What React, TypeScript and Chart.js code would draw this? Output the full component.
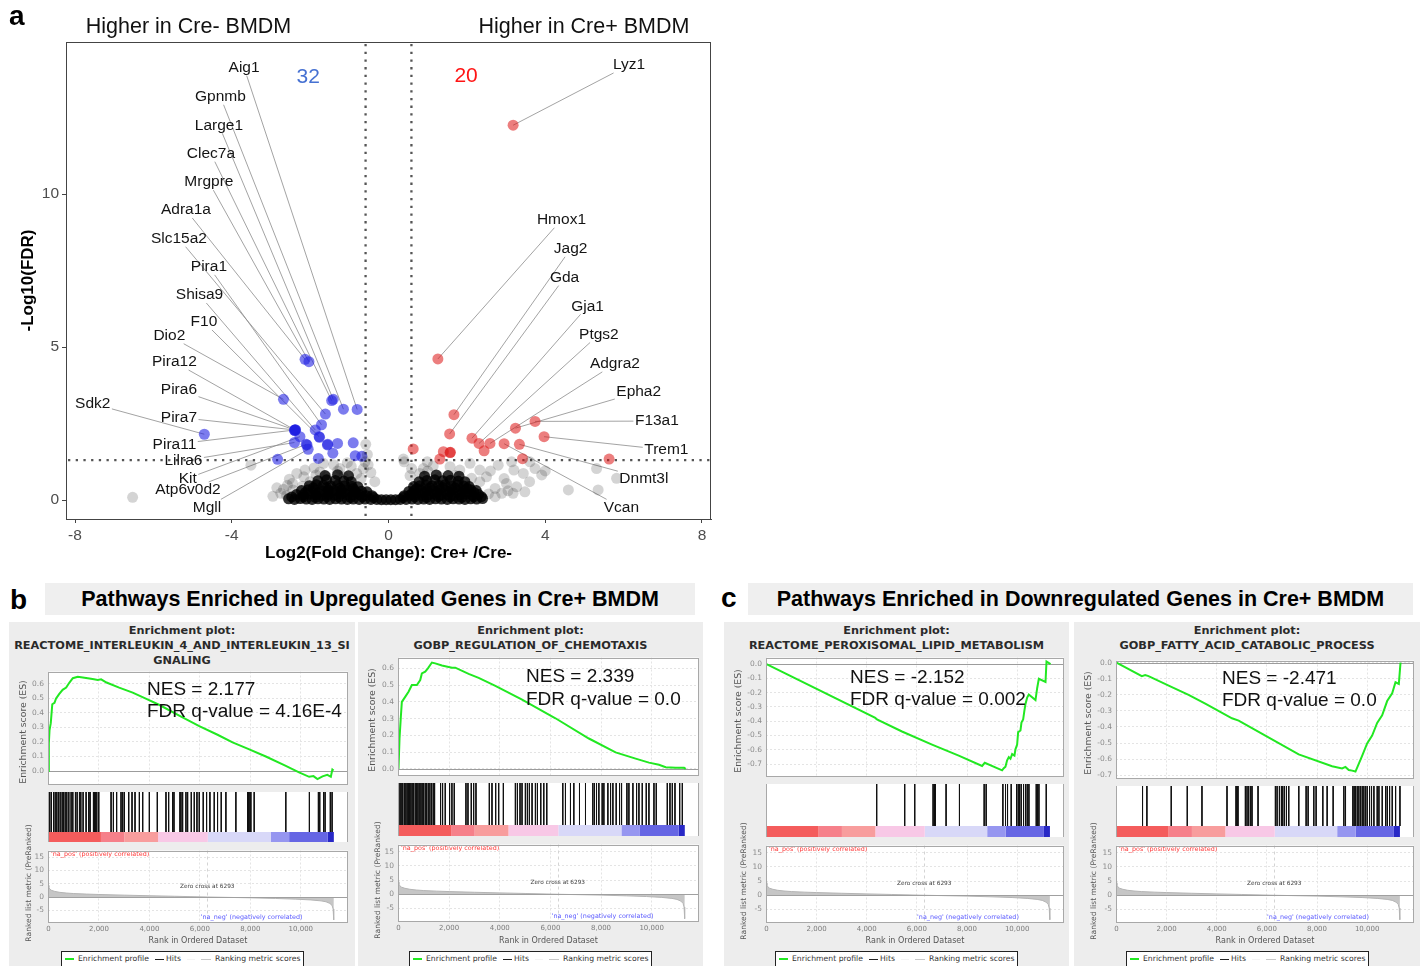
import React, { useEffect, useRef } from 'react';
import { Chart, registerables } from 'chart.js';

Chart.register(...registerables);

const FONT_SANS = '"Liberation Sans", Arial, Helvetica, sans-serif';
const FONT_GSEA = '"DejaVu Sans", Verdana, sans-serif';

// ================= Panel a: volcano plot =================
const VOLCANO_X_TICKS = [-8, -4, 0, 4, 8];
const VOLCANO_Y_TICKS = [0, 5, 10];
const LOG2FC_CUTOFF = 0.585;
const NEG_LOG10_FDR_CUTOFF = 1.301;
const DOWN_COUNT = 32;
const UP_COUNT = 20;

// significant genes, higher in Cre- : [log2FC, -log10 FDR]
const DOWN_GENES: [number, number][] = [
  [-2.13, 4.6], [-2.03, 4.52], [-2.68, 3.29], [-1.45, 3.25], [-1.41, 3.29], [-1.15, 2.97], [-0.8, 2.96], [-1.61, 2.81],
  [-1.71, 2.46], [-1.87, 2.29], [-2.39, 2.29], [-2.38, 2.3], [-2.4, 2.28], [-2.39, 2.27], [-2.37, 2.29], [-2.26, 2.07],
  [-1.77, 2.07], [-1.76, 2.05], [-2.4, 1.88], [-2.1, 1.82], [-2.05, 1.66], [-1.55, 1.82], [-1.3, 1.85], [-0.9, 1.87],
  [-1.42, 1.53], [-1.79, 1.36], [-0.85, 1.45], [-0.68, 1.43], [-2.83, 1.33], [-4.7, 2.15], [-1.56, 1.8], [-2.08, 1.8],
];
// significant genes, higher in Cre+
const UP_GENES: [number, number][] = [
  [3.18, 12.25], [1.26, 4.61], [1.67, 2.79], [1.56, 2.16], [2.13, 2.02], [2.31, 1.85], [2.44, 1.61], [2.59, 1.85],
  [3.24, 2.35], [3.74, 2.57], [3.97, 2.07], [2.95, 1.84], [3.34, 1.82], [3.42, 1.35], [5.63, 1.34], [0.63, 1.67],
  [1.4, 1.58], [1.57, 1.55], [1.58, 1.56], [1.31, 1.34],
];
// not significant, scattered
const NS_GENES: [number, number][] = [
  [-6.53, 0.09], [-3.51, 1.14], [-2.95, 0.12], [-2.85, 0.4], [-2.68, 0.35], [-2.53, 0.68], [-2.44, 0.33], [-2.3, 0.05],
  [-2.13, 0.98], [-2.16, 0.76], [-2.0, 0.6], [-1.75, 0.92], [-1.58, 0.76], [-1.24, 1.03], [-1.15, 0.76], [-0.81, 0.87],
  [-0.64, 1.03], [-2.34, 0.87], [-1.66, 1.2], [-0.58, 1.82], [-0.54, 1.49], [-0.6, 1.25], [-0.95, 1.1], [-1.4, 1.15],
  [-2.6, 0.15], [-2.75, 0.22], [-2.2, 0.45], [-1.9, 1.05], [-0.45, 0.9], [-0.35, 0.6], [-1.05, 1.22], [-0.7, 0.7],
  [-2.45, 0.55], [-1.3, 0.95], [-0.52, 1.15], [-2.58, 0.48], [-1.85, 0.82],
  [0.38, 1.34], [0.59, 1.03], [0.89, 1.03], [1.14, 1.11], [0.8, 0.87], [1.57, 1.09], [1.82, 0.98], [2.08, 1.2],
  [2.33, 0.98], [2.8, 1.14], [3.14, 1.25], [3.2, 0.98], [3.44, 0.87], [3.61, 1.25], [3.74, 1.03], [3.91, 0.82],
  [3.01, 0.54], [3.27, 0.43], [3.48, 0.27], [3.18, 0.22], [2.72, 0.38], [2.72, 0.11], [2.89, 0.22], [4.59, 0.33],
  [5.31, 1.03], [5.35, 0.33], [5.82, 0.71], [2.5, 0.76], [2.33, 0.6], [2.12, 0.71], [0.4, 1.25], [0.99, 1.25],
  [1.3, 0.75], [1.7, 0.8], [2.95, 0.7], [3.6, 0.6], [4.0, 0.95], [2.6, 0.95], [1.0, 0.95], [0.55, 0.8],
  [3.05, 0.3], [2.55, 0.2],
];
// not significant, dense core near zero
const NS_CORE_GENES: [number, number][] = [
  [-2.55, 0.04], [-2.4, 0.02], [-2.25, 0.05], [-2.1, 0.03], [-1.95, 0.02], [-1.8, 0.04], [-1.65, 0.03], [-1.5, 0.02],
  [-1.35, 0.04], [-1.2, 0.03], [-1.05, 0.02], [-0.9, 0.03], [-0.75, 0.02], [-0.6, 0.03], [-0.45, 0.02], [-0.3, 0.02],
  [-0.18, 0.01], [-0.06, 0.01], [0.06, 0.01], [0.18, 0.01], [0.3, 0.02], [0.45, 0.02], [0.6, 0.03], [0.75, 0.02],
  [0.9, 0.03], [1.05, 0.02], [1.2, 0.04], [1.35, 0.03], [1.5, 0.02], [1.65, 0.04], [1.8, 0.03], [1.95, 0.02],
  [2.1, 0.04], [2.25, 0.03], [2.4, 0.05],
  [-2.35, 0.18], [-2.18, 0.16], [-2.02, 0.19], [-1.86, 0.17], [-1.7, 0.15], [-1.54, 0.18], [-1.38, 0.16], [-1.22, 0.19],
  [-1.06, 0.17], [-0.9, 0.16], [-0.74, 0.18], [-0.58, 0.15], [-0.42, 0.14], [0.4, 0.14], [0.55, 0.16], [0.7, 0.18],
  [0.86, 0.15], [1.02, 0.17], [1.18, 0.19], [1.34, 0.16], [1.5, 0.18], [1.66, 0.15], [1.82, 0.17], [1.98, 0.19],
  [2.14, 0.16], [2.3, 0.18],
  [-2.22, 0.31], [-2.05, 0.34], [-1.88, 0.32], [-1.71, 0.3], [-1.54, 0.33], [-1.37, 0.31], [-1.2, 0.34], [-1.03, 0.32],
  [-0.86, 0.3], [-0.69, 0.29], [-0.55, 0.27], [0.52, 0.28], [0.66, 0.31], [0.82, 0.33], [0.98, 0.3], [1.14, 0.32],
  [1.3, 0.34], [1.46, 0.31], [1.62, 0.33], [1.78, 0.3], [1.94, 0.32], [2.1, 0.34], [2.24, 0.31],
  [-2.02, 0.47], [-1.84, 0.5], [-1.66, 0.48], [-1.48, 0.46], [-1.3, 0.49], [-1.12, 0.47], [-0.94, 0.45], [-0.78, 0.43],
  [0.64, 0.44], [0.8, 0.47], [0.96, 0.49], [1.12, 0.46], [1.28, 0.48], [1.44, 0.5], [1.6, 0.47], [1.76, 0.49],
  [1.92, 0.46], [2.06, 0.44],
  [-1.8, 0.63], [-1.58, 0.66], [-1.36, 0.64], [-1.14, 0.62], [-0.95, 0.6], [0.78, 0.6], [0.98, 0.64], [1.18, 0.66],
  [1.38, 0.63], [1.58, 0.65], [1.78, 0.62], [1.95, 0.6],
  [-1.62, 0.8], [-1.3, 0.83], [-1.02, 0.79], [0.92, 0.78], [1.22, 0.82], [1.52, 0.8], [1.8, 0.78],
  [-2.47, 0.1], [-2.17, 0.1], [-1.87, 0.09], [-1.57, 0.11], [-1.27, 0.1], [-0.97, 0.09], [-0.67, 0.1], [-0.38, 0.08],
  [0.37, 0.08], [0.67, 0.1], [0.97, 0.09], [1.27, 0.11], [1.57, 0.1], [1.87, 0.09], [2.17, 0.1], [2.37, 0.11],
  [-2.12, 0.25], [-1.8, 0.24], [-1.48, 0.26], [-1.14, 0.24], [-0.82, 0.23], [0.6, 0.22], [0.92, 0.25], [1.24, 0.24],
  [1.56, 0.26], [1.88, 0.24], [2.18, 0.25],
  [-1.92, 0.4], [-1.58, 0.41], [-1.24, 0.39], [-0.9, 0.38], [0.72, 0.38], [1.05, 0.4], [1.38, 0.41], [1.7, 0.39],
  [2.0, 0.38],
];
// labelled genes: [name, log2FC, -log10 FDR]
const LABELED_GENES: [string, number, number][] = [
  ['Aig1', -0.8, 2.96], ['Gpnmb', -1.15, 2.97], ['Large1', -1.41, 3.29], ['Clec7a', -1.45, 3.25], ['Mrgpre', -2.03, 4.52],
  ['Adra1a', -2.13, 4.6], ['Slc15a2', -1.61, 2.81], ['Pira1', -1.71, 2.46], ['Shisa9', -1.87, 2.29], ['F10', -1.77, 2.07],
  ['Dio2', -2.68, 3.29], ['Pira12', -2.39, 2.29], ['Pira6', -2.39, 2.29], ['Sdk2', -4.7, 2.15], ['Pira7', -2.39, 2.29],
  ['Pira11', -2.39, 2.29], ['Lilra6', -2.4, 1.88], ['Kit', -2.26, 2.07], ['Atp6v0d2', -2.1, 1.82], ['Mgll', -2.05, 1.66],
  ['Lyz1', 3.18, 12.25], ['Hmox1', 1.26, 4.61], ['Jag2', 1.67, 2.79], ['Gda', 1.56, 2.16], ['Gja1', 2.13, 2.02],
  ['Ptgs2', 2.31, 1.85], ['Adgra2', 2.59, 1.85], ['Epha2', 3.24, 2.35], ['F13a1', 3.74, 2.57], ['Trem1', 3.97, 2.07],
  ['Dnmt3l', 3.34, 1.82], ['Vcan', 2.95, 1.84],
];
// repelled label centres (layout, in axis units), same order as LABELED_GENES
const LABEL_PLACEMENT: [number, number][] = [
  [-3.686, 14.13], [-4.289, 13.18], [-4.327, 12.25], [-4.532, 11.32], [-4.583, 10.39],
  [-5.17, 9.48], [-5.348, 8.54], [-4.583, 7.62], [-4.823, 6.7], [-4.71, 5.82],
  [-5.593, 5.37], [-5.463, 4.51], [-5.348, 3.6], [-7.548, 3.15], [-5.348, 2.7],
  [-5.463, 1.82], [-5.233, 1.28], [-5.124, 0.71], [-5.118, 0.33], [-4.633, -0.24],
  [6.137, 14.22], [4.414, 9.16], [4.649, 8.21], [4.493, 7.27], [5.08, 6.33],
  [5.369, 5.41], [5.777, 4.45], [6.385, 3.53], [6.849, 2.58], [7.091, 1.64],
  [6.517, 0.71], [5.943, -0.24],
];
const COUNT_PLACEMENT: [number, number][] = [[-2.05, 13.82], [1.98, 13.86]];

// ================= Panels b, c: GSEA =================
const RANK_MIN = -20;
const RANK_MAX = 11870;
const RANK_TICKS = [0, 2000, 4000, 6000, 8000, 10000];
const METRIC_TICKS = [-5, 0, 5, 10, 15];
const METRIC_MIN = -9.4;
const METRIC_MAX = 17.5;
const ZERO_CROSS_RANK = 6293;
const ES_TICKS_POS = [0, 0.1, 0.2, 0.3, 0.4, 0.5, 0.6];
const ES_TICKS_NEG = [0, -0.1, -0.2, -0.3, -0.4, -0.5, -0.6, -0.7];

const RANKED_METRIC: [number, number][] = [
  [0, 4.4], [15, 3.6], [50, 3.0], [120, 2.5], [250, 2.1], [450, 1.75], [700, 1.5], [1000, 1.3], [1500, 1.1],
  [2000, 0.95], [3000, 0.7], [4000, 0.48], [5000, 0.28], [6293, 0], [7000, -0.12], [8000, -0.3], [9000, -0.55],
  [9800, -0.8], [10400, -1.1], [10800, -1.45], [11000, -1.8], [11150, -2.4], [11240, -3.2], [11280, -4.5],
  [11300, -6.5], [11309, -8.6],
];
const COLOR_BAR_EDGES = [0, 2078, 3010, 4342, 6314, 8805, 9537, 11069, 11309];
const COLOR_BAR_COLORS = ['#f45c5c', '#f6808a', '#f89d9d', '#f8c8e6', '#d8d8f8', '#9696f0', '#6666e4', '#2828c6'];

const GENE_SETS = [
  ['REACTOME_INTERLEUKIN_4_AND_INTERLEUKIN_13_SI', 'GNALING'],
  ['GOBP_REGULATION_OF_CHEMOTAXIS'],
  ['REACTOME_PEROXISOMAL_LIPID_METABOLISM'],
  ['GOBP_FATTY_ACID_CATABOLIC_PROCESS'],
];
const NES_VALUES = ['2.177', '2.339', '-2.152', '-2.471'];
const FDR_VALUES = ['4.16E-4', '0.0', '0.002', '0.0'];

const ES_IL4: [number, number][] = [
  [0, 0], [13, 0.19], [40, 0.28], [90, 0.33], [150, 0.46], [237, 0.47], [300, 0.5], [420, 0.53], [560, 0.56],
  [700, 0.575], [830, 0.61], [963, 0.64], [1160, 0.65], [1360, 0.645], [1620, 0.637], [1800, 0.632], [1950, 0.628],
  [2085, 0.632], [2300, 0.61], [2800, 0.575], [3337, 0.54], [3900, 0.495], [4400, 0.455], [5200, 0.38],
  [5975, 0.31], [6700, 0.25], [7294, 0.197], [7888, 0.154], [8613, 0.1], [9405, 0.036], [9930, -0.01],
  [10330, -0.04], [10500, -0.035], [10660, -0.056], [10860, -0.037], [11050, -0.026], [11190, -0.04],
  [11250, 0.01], [11300, 0.003],
];
const HITS_IL4 = [
  13, 53, 119, 198, 264, 330, 396, 462, 541, 594, 660, 725, 805, 897, 963, 1068, 1134, 1227, 1280, 1372, 1491, 1596,
  1649, 1781, 1821, 1860, 1913, 1992, 2480, 2572, 2700, 2875, 2941, 3007, 3179, 3311, 3429, 3601, 3733, 3997, 4313,
  4656, 4762, 4920, 4973, 5210, 5250, 5316, 5447, 5514, 5659, 5777, 5883, 5975, 6133, 6265, 6397, 6569, 6700, 6846,
  7030, 7426, 7888, 7927, 7980, 8020, 8152, 9405, 10340, 10697, 10750, 10900, 10961, 11170, 11240,
];
const ES_CHEMO: [number, number][] = [
  [0, 0], [40, 0.18], [92, 0.31], [132, 0.4], [264, 0.43], [396, 0.46], [528, 0.5], [726, 0.5], [858, 0.53],
  [923, 0.57], [1055, 0.58], [1161, 0.6], [1319, 0.635], [1451, 0.63], [1715, 0.617], [2111, 0.604], [2243, 0.604],
  [2770, 0.567], [3166, 0.543], [3826, 0.496], [4881, 0.413], [6200, 0.302], [7520, 0.181], [8575, 0.098],
  [9367, 0.061], [9894, 0.037], [10290, 0.024], [10554, 0.009], [10950, 0.007], [11280, 0.006], [11346, 0],
];
const HITS_CHEMO = [
  13, 66, 132, 171, 237, 290, 343, 396, 435, 488, 541, 594, 660, 712, 765, 818, 884, 936, 989, 1055, 1108, 1174,
  1240, 1306, 1372, 1425, 1662, 1741, 1847, 2018, 2110, 2203, 2664, 2744, 2875, 2968, 3060, 3588, 3693, 3838, 3957,
  4142, 4617, 4696, 4801, 4880, 5012, 5091, 5170, 5276, 5408, 5487, 5619, 5738, 5856, 6489, 6595, 6793, 6925, 7149,
  7386, 7677, 7743, 7822, 7914, 8046, 8112, 8270, 8376, 8468, 8600, 8732, 8811, 9022, 9101, 9259, 9404, 9497, 9629,
  9787, 9892, 10090, 10183, 10618, 10723, 10816, 10921, 11106, 11212,
];
const ES_PEROX: [number, number][] = [
  [0, 0], [4341, -0.377], [4407, -0.388], [5406, -0.472], [6605, -0.564], [7670, -0.641], [8602, -0.713],
  [8708, -0.691], [9401, -0.744], [9467, -0.729], [9534, -0.718], [9600, -0.674], [9667, -0.652], [9734, -0.663],
  [9800, -0.63], [9893, -0.641], [9933, -0.597], [10000, -0.564], [10040, -0.476], [10133, -0.465], [10173, -0.41],
  [10240, -0.388], [10293, -0.323], [10333, -0.279], [10400, -0.235], [10466, -0.213], [10732, -0.252],
  [10799, -0.169], [10866, -0.103], [11132, -0.125], [11172, 0.018], [11332, 0.0],
];
const HITS_PEROX = [
  4396, 5514, 5914, 6647, 6700, 6740, 7166, 7699, 8685, 8765, 9431, 9537, 9617, 9764, 9977, 10043, 10097, 10163,
  10256, 10336, 10403, 10470, 10763, 10816, 10869, 11162,
];
const ES_FATTY: [number, number][] = [
  [0, 0], [1012, -0.084], [1145, -0.078], [1278, -0.084], [2210, -0.152], [2876, -0.2], [3542, -0.255],
  [4607, -0.346], [4874, -0.36], [5939, -0.453], [7270, -0.57], [8602, -0.644], [9001, -0.657], [9134, -0.648],
  [9268, -0.667], [9401, -0.671], [9534, -0.677], [9640, -0.638], [9800, -0.579], [10000, -0.502], [10200, -0.453],
  [10400, -0.375], [10599, -0.327], [10799, -0.239], [10999, -0.191], [11132, -0.122], [11265, -0.132], [11332, 0.0],
];
const HITS_FATTY = [
  1039, 1212, 2184, 2824, 3410, 4409, 4769, 4809, 4848, 5142, 5208, 5275, 5355, 5408, 5648, 6340, 6407, 6500, 6580,
  6633, 6700, 6780, 6873, 7273, 7566, 7646, 7872, 7965, 8232, 8405, 8645, 9071, 9138, 9431, 9484, 9537, 9604, 9670,
  9737, 9804, 9870, 9937, 10003, 10097, 10176, 10270, 10403, 10470, 10603, 10736, 10803, 10896, 11002, 11136, 11309,
];

// ---------- layout of the four GSEA panels (pixels) ----------
const GEOS = [
  { left: 9, width: 346, frameL: 48, frameR: 348, esTop: 671, esBot: 792, hitsBot: 832, barBot: 842, rankBot: 922, esMin: -0.093, esMax: 0.686, nes: [147, 688, 710] },
  { left: 358, width: 345, frameL: 398, frameR: 699, esTop: 657, esBot: 783, hitsBot: 825, barBot: 836, rankBot: 921, esMin: -0.04, esMax: 0.665, nes: [526, 675, 698] },
  { left: 724, width: 345, frameL: 766, frameR: 1064, esTop: 657, esBot: 784, hitsBot: 826, barBot: 837, rankBot: 922, esMin: -0.787, esMax: 0.046, nes: [850, 676, 698] },
  { left: 1074, width: 346, frameL: 1116, frameR: 1414, esTop: 660, esBot: 786, hitsBot: 826, barBot: 837, rankBot: 922, esMin: -0.72, esMax: 0.013, nes: [1222, 677, 699] },
];
const PANEL_DATA = [
  { es: ES_IL4, hits: HITS_IL4, ticks: ES_TICKS_POS },
  { es: ES_CHEMO, hits: HITS_CHEMO, ticks: ES_TICKS_POS },
  { es: ES_PEROX, hits: HITS_PEROX, ticks: ES_TICKS_NEG },
  { es: ES_FATTY, hits: HITS_FATTY, ticks: ES_TICKS_NEG },
];

const GRID = '#e4e4e4';
const ES_GREEN = '#22e822';

// ================= helpers =================
const fixedTicks = (vals: number[]) => (s: any) => {
  s.ticks = vals.map((v) => ({ value: v }));
};
const fixW = (w: number) => (s: any) => {
  s.width = w;
};
const fixH = (h: number) => (s: any) => {
  s.height = h;
};
const pts = (a: [number, number][]) => a.map(([x, y]) => ({ x, y }));
const baseOpts = {
  responsive: false,
  maintainAspectRatio: false,
  animation: false,
  devicePixelRatio: 1,
  events: [],
  plugins: { legend: { display: false }, tooltip: { enabled: false } },
};

function ChartCanvas({ left, top, width, height, config }: any) {
  const ref = useRef<HTMLCanvasElement>(null);
  useEffect(() => {
    const chart = new Chart(ref.current as HTMLCanvasElement, config());
    return () => chart.destroy();
  }, []);
  return (
    <canvas
      ref={ref}
      width={width}
      height={height}
      style={{ position: 'absolute', left, top, width, height, display: 'block' }}
    />
  );
}

// ================= volcano =================
const volcanoDecor = {
  id: 'volcanoDecor',
  beforeDatasetsDraw(chart: any) {
    const { ctx, chartArea: a, scales } = chart;
    const xs = scales.x;
    const ys = scales.y;
    ctx.save();
    ctx.strokeStyle = '#555555';
    ctx.lineWidth = 2.3;
    ctx.setLineDash([2.3, 5.4]);
    [-LOG2FC_CUTOFF, LOG2FC_CUTOFF].forEach((v) => {
      const p = xs.getPixelForValue(v);
      ctx.beginPath();
      ctx.moveTo(p, a.top + 2);
      ctx.lineTo(p, a.bottom);
      ctx.stroke();
    });
    const h = ys.getPixelForValue(NEG_LOG10_FDR_CUTOFF);
    ctx.beginPath();
    ctx.moveTo(a.left + 2, h);
    ctx.lineTo(a.right, h);
    ctx.stroke();
    ctx.setLineDash([]);
    ctx.strokeStyle = '#8c8c8c';
    ctx.lineWidth = 0.8;
    ctx.font = `15.5px ${FONT_SANS}`;
    LABELED_GENES.forEach(([name, gx, gy], i) => {
      const [lx, ly] = LABEL_PLACEMENT[i];
      const cx = xs.getPixelForValue(lx);
      const cy = ys.getPixelForValue(ly);
      const px = xs.getPixelForValue(gx);
      const py = ys.getPixelForValue(gy);
      const hw = ctx.measureText(name).width / 2 + 1.5;
      const hh = 8;
      const dx = px - cx;
      const dy = py - cy;
      const t = Math.min(dx ? hw / Math.abs(dx) : Infinity, dy ? hh / Math.abs(dy) : Infinity);
      if (t >= 1) return;
      ctx.beginPath();
      ctx.moveTo(cx + dx * t, cy + dy * t);
      ctx.lineTo(px, py);
      ctx.stroke();
    });
    ctx.restore();
  },
  afterDatasetsDraw(chart: any) {
    const { ctx, chartArea: a, scales } = chart;
    const xs = scales.x;
    const ys = scales.y;
    ctx.save();
    ctx.font = `15.5px ${FONT_SANS}`;
    ctx.fillStyle = '#141414';
    ctx.textAlign = 'center';
    ctx.textBaseline = 'middle';
    LABELED_GENES.forEach(([name], i) => {
      const [lx, ly] = LABEL_PLACEMENT[i];
      ctx.fillText(name, xs.getPixelForValue(lx), ys.getPixelForValue(ly));
    });
    ctx.font = `21px ${FONT_SANS}`;
    ctx.fillStyle = '#4671d2';
    ctx.fillText(String(DOWN_COUNT), xs.getPixelForValue(COUNT_PLACEMENT[0][0]), ys.getPixelForValue(COUNT_PLACEMENT[0][1]));
    ctx.fillStyle = '#ff1414';
    ctx.fillText(String(UP_COUNT), xs.getPixelForValue(COUNT_PLACEMENT[1][0]), ys.getPixelForValue(COUNT_PLACEMENT[1][1]));
    ctx.strokeStyle = '#444444';
    ctx.lineWidth = 1;
    ctx.strokeRect(Math.round(a.left) + 0.5, Math.round(a.top) + 0.5, Math.round(a.right - a.left) - 1, Math.round(a.bottom - a.top));
    ctx.restore();
  },
};

function volcanoConfig() {
  const pointDs = (data: [number, number][], color: string) => ({
    data: pts(data),
    backgroundColor: color,
    pointBackgroundColor: color,
    pointBorderWidth: 0,
    borderWidth: 0,
    pointRadius: 5.5,
    showLine: false,
  });
  const tickFont = { family: FONT_SANS, size: 15.5 };
  return {
    type: 'scatter',
    data: {
      datasets: [
        pointDs(NS_CORE_GENES, 'rgba(0,0,0,0.8)'),
        pointDs(NS_GENES, 'rgba(0,0,0,0.17)'),
        pointDs(DOWN_GENES, 'rgba(30,30,225,0.58)'),
        pointDs(UP_GENES, 'rgba(220,20,20,0.55)'),
      ],
    },
    options: {
      ...baseOpts,
      layout: { padding: { left: 0, top: 42, right: 9, bottom: 0 } },
      scales: {
        x: {
          type: 'linear',
          min: -8.23,
          max: 8.23,
          afterBuildTicks: fixedTicks(VOLCANO_X_TICKS),
          afterFit: fixH(51),
          grid: { drawOnChartArea: false, drawTicks: true, tickLength: 4, color: '#444' },
          border: { display: true, color: '#444' },
          ticks: { color: '#4d4d4d', font: tickFont, padding: 3, autoSkip: false, maxRotation: 0 },
          title: {
            display: true,
            text: 'Log2(Fold Change): Cre+ /Cre-',
            color: '#000',
            font: { family: FONT_SANS, size: 17, weight: 'bold' },
            padding: { top: 0, bottom: 6.8 },
          },
        },
        y: {
          type: 'linear',
          min: -0.62,
          max: 14.97,
          afterBuildTicks: fixedTicks(VOLCANO_Y_TICKS),
          afterFit: fixW(66),
          grid: { drawOnChartArea: false, drawTicks: true, tickLength: 4, color: '#444' },
          border: { display: true, color: '#444' },
          ticks: { color: '#4d4d4d', font: tickFont, padding: 3 },
          title: {
            display: true,
            text: '-Log10(FDR)',
            color: '#000',
            font: { family: FONT_SANS, size: 17, weight: 'bold' },
            padding: { top: 17.8, bottom: 0 },
          },
        },
      },
    },
    plugins: [volcanoDecor],
  };
}

// ================= GSEA charts =================
const whiteArea = {
  id: 'whiteArea',
  beforeDraw(chart: any) {
    const { ctx, chartArea: a } = chart;
    ctx.save();
    ctx.fillStyle = '#ffffff';
    ctx.fillRect(a.left, a.top, a.right - a.left, a.bottom - a.top);
    ctx.restore();
  },
};
const frameAll = {
  id: 'frameAll',
  afterDraw(chart: any) {
    const { ctx, chartArea: a } = chart;
    ctx.save();
    ctx.strokeStyle = '#a8a8a8';
    ctx.lineWidth = 1;
    ctx.strokeRect(Math.round(a.left) + 0.5, Math.round(a.top) + 0.5, Math.round(a.right - a.left) - 1, Math.round(a.bottom - a.top) - 1);
    ctx.restore();
  },
};
const frameSides = {
  id: 'frameSides',
  afterDraw(chart: any) {
    const { ctx, chartArea: a } = chart;
    ctx.save();
    ctx.strokeStyle = '#a8a8a8';
    ctx.lineWidth = 1;
    ctx.beginPath();
    ctx.moveTo(Math.round(a.left) + 0.5, a.top);
    ctx.lineTo(Math.round(a.left) + 0.5, a.bottom);
    ctx.moveTo(Math.round(a.right) - 0.5, a.top);
    ctx.lineTo(Math.round(a.right) - 0.5, a.bottom);
    ctx.stroke();
    ctx.restore();
  },
};
const esZero = {
  id: 'esZero',
  beforeDatasetsDraw(chart: any) {
    const { ctx, chartArea: a, scales } = chart;
    const y = Math.round(scales.y.getPixelForValue(0)) + 0.5;
    ctx.save();
    ctx.strokeStyle = '#9c9c9c';
    ctx.lineWidth = 1;
    ctx.beginPath();
    ctx.moveTo(a.left, y);
    ctx.lineTo(a.right, y);
    ctx.stroke();
    ctx.restore();
  },
};
const rankedDecor = {
  id: 'rankedDecor',
  beforeDatasetsDraw(chart: any) {
    const { ctx, chartArea: a, scales } = chart;
    const x = Math.round(scales.x.getPixelForValue(ZERO_CROSS_RANK)) + 0.5;
    ctx.save();
    ctx.strokeStyle = '#d4d4d4';
    ctx.lineWidth = 1;
    ctx.setLineDash([3, 3]);
    ctx.beginPath();
    ctx.moveTo(x, a.top);
    ctx.lineTo(x, a.bottom);
    ctx.stroke();
    ctx.restore();
  },
  afterDatasetsDraw(chart: any) {
    const { ctx, chartArea: a, scales } = chart;
    const xs = scales.x;
    const ys = scales.y;
    ctx.save();
    const y0 = Math.round(ys.getPixelForValue(0)) + 0.5;
    ctx.strokeStyle = '#a0a0a0';
    ctx.lineWidth = 1;
    ctx.beginPath();
    ctx.moveTo(a.left, y0);
    ctx.lineTo(a.right, y0);
    ctx.stroke();
    ctx.textBaseline = 'middle';
    ctx.font = `6.4px ${FONT_GSEA}`;
    ctx.fillStyle = '#ff3a3a';
    ctx.textAlign = 'left';
    ctx.fillText("'na_pos' (positively correlated)", xs.getPixelForValue(100), ys.getPixelForValue(16.2));
    ctx.fillStyle = '#5a5aff';
    ctx.textAlign = 'right';
    ctx.fillText("'na_neg' (negatively correlated)", xs.getPixelForValue(10070), ys.getPixelForValue(-7.6));
    ctx.font = `5.8px ${FONT_GSEA}`;
    ctx.fillStyle = '#444';
    ctx.textAlign = 'center';
    ctx.fillText(`Zero cross at ${ZERO_CROSS_RANK}`, xs.getPixelForValue(ZERO_CROSS_RANK), ys.getPixelForValue(4));
    ctx.restore();
  },
};

const rankAxis = (extra: any) => ({
  type: 'linear',
  min: RANK_MIN,
  max: RANK_MAX,
  afterBuildTicks: fixedTicks(RANK_TICKS),
  grid: { color: GRID, drawTicks: false },
  border: { display: false, dash: [2, 2] },
  ...extra,
});

function esConfig(g: any, es: [number, number][], ticks: number[]) {
  return () => ({
    type: 'line',
    data: {
      datasets: [
        { data: pts(es), borderColor: ES_GREEN, borderWidth: 2, pointRadius: 0, tension: 0, fill: false },
      ],
    },
    options: {
      ...baseOpts,
      layout: { padding: { top: 8, right: 4, bottom: 1, left: 0 } },
      scales: {
        x: rankAxis({ afterFit: fixH(0), ticks: { display: false } }),
        y: {
          type: 'linear',
          min: g.esMin,
          max: g.esMax,
          afterBuildTicks: fixedTicks(ticks),
          afterFit: fixW(g.frameL - g.left),
          ticks: { color: '#8c8c8c', font: { family: FONT_GSEA, size: 7.5 }, padding: 4, callback: (v: any) => Number(v).toFixed(1) },
          grid: { color: GRID, drawTicks: false },
          border: { display: false, dash: [2, 2] },
        },
      },
    },
    plugins: [whiteArea, esZero, frameAll],
  });
}

function hitsConfig(g: any, hits: number[]) {
  return () => {
    const barPx = g.barBot - g.hitsBot;
    const barFrac = barPx / (g.barBot - g.esBot);
    const hitData: any[] = [];
    hits.forEach((r) => {
      hitData.push({ x: r, y: 1 }, { x: r, y: barFrac }, { x: r, y: null });
    });
    const blocks = COLOR_BAR_COLORS.map((c, i) => ({
      data: [
        { x: COLOR_BAR_EDGES[i], y: barFrac / 2 },
        { x: COLOR_BAR_EDGES[i + 1], y: barFrac / 2 },
      ],
      borderColor: c,
      borderWidth: barPx,
      borderCapStyle: 'butt',
      pointRadius: 0,
      fill: false,
    }));
    return {
      type: 'line',
      data: {
        datasets: [
          { data: hitData, borderColor: '#111', borderWidth: 1, pointRadius: 0, spanGaps: false, fill: false },
          ...blocks,
        ],
      },
      options: {
        ...baseOpts,
        layout: { padding: { top: 0, right: 4, bottom: 0, left: 0 } },
        scales: {
          x: rankAxis({ afterFit: fixH(0), ticks: { display: false }, grid: { display: false } }),
          y: {
            type: 'linear',
            min: 0,
            max: 1,
            afterFit: fixW(g.frameL - g.left),
            ticks: { display: false },
            grid: { display: false },
            border: { display: false },
          },
        },
      },
      plugins: [whiteArea, frameSides],
    };
  };
}

function rankedConfig(g: any) {
  return () => ({
    type: 'line',
    data: {
      datasets: [
        {
          data: pts(RANKED_METRIC),
          borderColor: '#b4b4b4',
          backgroundColor: '#c6c6c6',
          borderWidth: 1,
          pointRadius: 0,
          tension: 0,
          fill: 'origin',
        },
      ],
    },
    options: {
      ...baseOpts,
      layout: { padding: { top: 0, right: 4, bottom: 0, left: 0 } },
      scales: {
        x: rankAxis({
          afterFit: fixH(948 - g.rankBot),
          ticks: {
            color: '#7c7c7c',
            font: { family: FONT_GSEA, size: 7 },
            padding: 3,
            maxRotation: 0,
            autoSkip: false,
            callback: (v: any) => Number(v).toLocaleString('en-US'),
          },
          title: {
            display: true,
            text: 'Rank in Ordered Dataset',
            color: '#555',
            font: { family: FONT_GSEA, size: 8 },
            padding: { top: 0, bottom: 2 },
          },
        }),
        y: {
          type: 'linear',
          min: METRIC_MIN,
          max: METRIC_MAX,
          afterBuildTicks: fixedTicks(METRIC_TICKS),
          afterFit: fixW(g.frameL - g.left),
          ticks: { color: '#8c8c8c', font: { family: FONT_GSEA, size: 7.5 }, padding: 4 },
          grid: { color: GRID, drawTicks: false },
          border: { display: false, dash: [2, 2] },
        },
      },
    },
    plugins: [whiteArea, rankedDecor, frameAll],
  });
}

const abs = (left: number, top: number, extra: any = {}) => ({ position: 'absolute' as const, left, top, ...extra });

function RotText({ cx, cy, size, children }: any) {
  return (
    <div
      style={abs(cx, cy, {
        transform: 'translate(-50%, -50%) rotate(-90deg)',
        whiteSpace: 'nowrap',
        fontFamily: FONT_GSEA,
        fontSize: size,
        color: '#555',
        lineHeight: 1,
      })}
    >
      {children}
    </div>
  );
}

function GseaLegend({ left }: { left: number }) {
  const seg = (x: number, w: number, color: string, h: number) => (
    <span style={abs(x, 7 - h / 2, { width: w, height: h, background: color })} />
  );
  const txt = (x: number, s: string) => (
    <span style={abs(x, 0, { lineHeight: '14px', whiteSpace: 'nowrap' })}>{s}</span>
  );
  return (
    <div
      style={abs(left, 951, {
        width: 241,
        height: 14,
        border: '1px solid #222',
        background: '#ffffff',
        fontFamily: FONT_GSEA,
        fontSize: 7.7,
        color: '#333',
      })}
    >
      {seg(3, 9, ES_GREEN, 2)}
      {txt(16, 'Enrichment profile')}
      {seg(93, 9, '#222', 1)}
      {txt(104, 'Hits')}
      {seg(125, 8, '#f4f4f4', 1)}
      {seg(139, 10, '#c8c8c8', 1)}
      {txt(153, 'Ranking metric scores')}
    </div>
  );
}

function GseaPanel({ i }: { i: number }) {
  const g = GEOS[i];
  const d = PANEL_DATA[i];
  const W = g.frameR - g.left + 4;
  const titleLines = ['Enrichment plot:', ...GENE_SETS[i]];
  return (
    <>
      <div style={abs(g.left, 622, { width: g.width, height: 344, background: '#ededed' })} />
      <div
        style={abs(g.left, 623, {
          width: g.width,
          textAlign: 'center',
          fontFamily: FONT_GSEA,
          fontWeight: 'bold',
          fontSize: 11.3,
          lineHeight: '15px',
          color: '#2a2a2a',
          whiteSpace: 'nowrap',
        })}
      >
        {titleLines.map((t) => (
          <div key={t}>{t}</div>
        ))}
      </div>
      <ChartCanvas left={g.left} top={g.esTop - 8} width={W} height={g.esBot - g.esTop + 9} config={esConfig(g, d.es, d.ticks)} />
      <ChartCanvas left={g.left} top={g.esBot} width={W} height={g.barBot - g.esBot} config={hitsConfig(g, d.hits)} />
      <ChartCanvas left={g.left} top={g.barBot} width={W} height={948 - g.barBot} config={rankedConfig(g)} />
      <RotText cx={g.left + 13.7} cy={(g.esTop + g.esBot) / 2} size={9.3}>
        Enrichment score (ES)
      </RotText>
      <RotText cx={g.left + 19.5} cy={(g.barBot + g.rankBot) / 2 + 1} size={7.6}>
        Ranked list metric (PreRanked)
      </RotText>
      <div style={abs(g.nes[0], g.nes[1] - 9.5, { fontFamily: FONT_SANS, fontSize: 19, lineHeight: '19px', color: '#111', whiteSpace: 'nowrap' })}>
        NES = {NES_VALUES[i]}
      </div>
      <div style={abs(g.nes[0], g.nes[2] - 9.5, { fontFamily: FONT_SANS, fontSize: 19, lineHeight: '19px', color: '#111', whiteSpace: 'nowrap' })}>
        FDR q-value = {FDR_VALUES[i]}
      </div>
      <GseaLegend left={g.left + Math.round((g.width - 243) / 2)} />
    </>
  );
}

function Header({ left, width, text }: any) {
  return (
    <div
      style={abs(left, 583, {
        width,
        height: 32,
        background: '#efefef',
        display: 'flex',
        alignItems: 'center',
        justifyContent: 'center',
        fontFamily: FONT_SANS,
        fontWeight: 'bold',
        fontSize: 21.5,
        color: '#000',
        whiteSpace: 'nowrap',
      })}
    >
      {text}
    </div>
  );
}

const letter = (left: number, top: number, s: string) => (
  <div style={abs(left, top, { fontFamily: FONT_SANS, fontWeight: 'bold', fontSize: 28, lineHeight: '28px', color: '#000' })}>{s}</div>
);

const centered = (cx: number, cy: number, s: string, size: number) => (
  <div
    style={abs(cx, cy, {
      transform: 'translate(-50%, -50%)',
      fontFamily: FONT_SANS,
      fontSize: size,
      lineHeight: 1,
      color: '#111',
      whiteSpace: 'nowrap',
    })}
  >
    {s}
  </div>
);

export default function App() {
  return (
    <div style={{ position: 'absolute', left: 0, top: 0, width: 1425, height: 966, overflow: 'hidden', background: '#ffffff' }}>
      <ChartCanvas left={0} top={0} width={720} height={570} config={volcanoConfig} />
      {letter(9, 2, 'a')}
      {centered(188.5, 26.5, 'Higher in Cre- BMDM', 21.5)}
      {centered(584, 26.5, 'Higher in Cre+ BMDM', 21.5)}

      {letter(10, 586, 'b')}
      <Header left={45} width={650} text="Pathways Enriched in Upregulated Genes in Cre+ BMDM" />
      {letter(721, 584, 'c')}
      <Header left={748} width={665} text="Pathways Enriched in Downregulated Genes in Cre+ BMDM" />

      {[0, 1, 2, 3].map((i) => (
        <GseaPanel key={i} i={i} />
      ))}
    </div>
  );
}
